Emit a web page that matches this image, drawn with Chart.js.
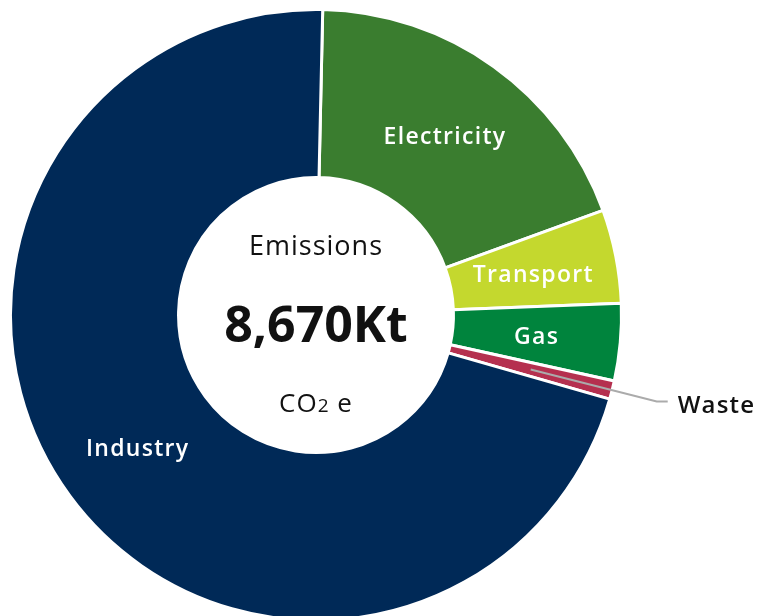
<!DOCTYPE html>
<html>
<head>
<meta charset="utf-8">
<script src="https://cdn.jsdelivr.net/npm/chart.js@4/dist/chart.umd.min.js"></script>
<style>
  html, body { margin: 0; padding: 0; background: #fff; overflow: hidden; }
  #wrap { width: 758px; height: 616px; overflow: hidden; }
</style>
</head>
<body>
<div id="wrap"><canvas id="emissions-chart" width="758" height="622"></canvas></div>
<script>
// Emissions by sector (Kt CO2e)
const sectors = ["Electricity", "Transport", "Gas", "Waste", "Industry"];
const emissions = [1655, 429, 354, 84, 6148];
const sectorColors = ["#3a7d2f", "#c4d82e", "#00843d", "#b5304f", "#002957"];
const labelColors = ["#fff", "#fff", "#fff", "#111", "#fff"];
const centerLines = ["Emissions", "8,670Kt", "CO", "2", " e"];

const labelSize = 23;

const sectorLabels = {
  id: "sectorLabels",
  afterDraw(chart) {
    const ctx = chart.ctx;
    const meta = chart.getDatasetMeta(0);
    ctx.save();
    ctx.textBaseline = "alphabetic";

    meta.data.forEach(function (arc, i) {
      const pos = arc.tooltipPosition();
      if (sectors[i] === "Waste") {
        // leader line out to the right
        const mid = (arc.startAngle + arc.endAngle) / 2;
        const r = arc.outerRadius + 46;
        const ex = arc.x + Math.cos(mid) * r;
        const ey = arc.y + Math.sin(mid) * r;
        ctx.strokeStyle = "#ababab";
        ctx.lineWidth = 2;
        ctx.beginPath();
        ctx.moveTo(pos.x, pos.y);
        ctx.lineTo(ex, ey);
        ctx.lineTo(ex + 11, ey);
        ctx.stroke();
        ctx.font = "600 24px 'Open Sans'";
        ctx.letterSpacing = "1.2px";
        ctx.fillStyle = labelColors[i];
        ctx.textAlign = "left";
        ctx.fillText(sectors[i], ex + 21, ey + 3 + 0.36 * 24);
      } else {
        ctx.font = "600 " + labelSize + "px 'Open Sans'";
        ctx.letterSpacing = "1.3px";
        ctx.fillStyle = labelColors[i];
        ctx.textAlign = "center";
        ctx.fillText(sectors[i], pos.x, pos.y + 1 + 0.36 * labelSize);
      }
    });

    // centre text
    const cx = meta.data[0].x;
    const cy = meta.data[0].y;
    ctx.fillStyle = "#111";
    ctx.textAlign = "center";
    ctx.font = "400 27px 'Open Sans'";
    ctx.letterSpacing = "1px";
    ctx.fillText(centerLines[0], cx, cy - 60);
    ctx.font = "700 50px 'Open Sans'";
    ctx.letterSpacing = "0px";
    ctx.fillText(centerLines[1], cx, cy + 27);

    // CO2 e with a small 2
    const big = "400 26px 'Open Sans'";
    const small = "400 19px 'Open Sans'";
    ctx.letterSpacing = "1px";
    ctx.font = big;
    const w1 = ctx.measureText(centerLines[2]).width;
    const w3 = ctx.measureText(centerLines[4]).width;
    ctx.font = small;
    const w2 = ctx.measureText(centerLines[3]).width;
    let x = cx - (w1 + w2 + w3) / 2;
    const base = cy + 97;
    ctx.textAlign = "left";
    ctx.font = big;
    ctx.fillText(centerLines[2], x, base);
    x += w1;
    ctx.font = small;
    ctx.fillText(centerLines[3], x, base);
    x += w2;
    ctx.font = big;
    ctx.fillText(centerLines[4], x, base);
    ctx.restore();
  },
};

new Chart(document.getElementById("emissions-chart"), {
  type: "doughnut",
  data: {
    labels: sectors,
    datasets: [
      {
        data: emissions,
        backgroundColor: sectorColors,
        borderColor: "#ffffff",
        borderWidth: 3,
      },
    ],
  },
  options: {
    responsive: false,
    animation: false,
    rotation: 1.26,
    cutout: "45%",
    layout: {
      padding: { left: 9, top: 8, right: 135, bottom: 0 },
    },
    plugins: {
      legend: { display: false },
      tooltip: { enabled: false },
    },
  },
  plugins: [sectorLabels],
});
</script>
</body>
</html>
